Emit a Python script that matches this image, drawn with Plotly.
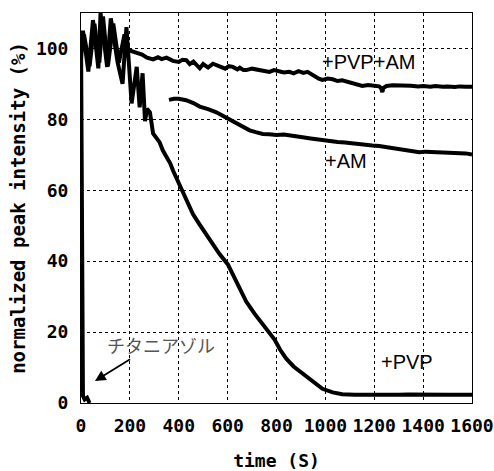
import plotly.graph_objects as go

# +PVP+AM
t_pvp_am = [0, 12, 35, 55, 75, 90, 110, 132, 155, 178, 195, 212, 235, 250, 270, 295, 315, 330, 350, 376, 400, 415, 431,
            445, 460, 475, 486, 500, 520, 540, 554, 575, 590, 605, 621, 640, 650, 665, 676, 700, 720, 745, 771, 790,
            810, 830, 853, 870, 890, 910, 927, 945, 960, 975, 988, 1010, 1030, 1050, 1069, 1090, 1110, 1130, 1151,
            1175, 1200, 1220, 1228, 1233, 1238, 1250, 1275, 1302, 1330, 1350, 1380, 1400, 1430, 1450, 1480, 1500,
            1530, 1550, 1575, 1600]
v_pvp_am = [100, 104, 95, 107, 96, 109, 95, 107, 96, 104, 99.5, 99.1, 98.6, 98.3, 97.4, 96.9, 97.5, 97.0, 97.4, 96.5,
            96.2, 96.8, 96.7, 95.6, 96.3, 95.2, 94.4, 95.6, 94.6, 95.7, 95.3, 94.6, 94.3, 95.0, 94.8, 94.1, 94.6, 93.9,
            93.9, 94.3, 94.0, 93.6, 93.4, 93.9, 93.6, 93.2, 93.4, 93.0, 93.6, 93.1, 93.4, 92.6, 91.8, 91.4, 91.1, 91.5,
            91.3, 90.8, 91.0, 90.6, 90.2, 89.9, 89.4, 89.7, 89.5, 89.3, 88.8, 87.7, 88.9, 89.4, 89.6, 89.6, 89.4,
            89.5, 89.3, 89.4, 89.2, 89.4, 89.2, 89.3, 89.1, 89.3, 89.2, 89.2]

# +AM
t_am = [360, 380, 400, 430, 460, 486, 520, 554, 580, 601, 625, 650, 670, 690, 715, 744, 770, 800, 830, 853, 880, 900,
        940, 988, 1020, 1050, 1080, 1100, 1150, 1192, 1220, 1250, 1280, 1300, 1340, 1384, 1410, 1450, 1480, 1500,
        1530, 1550, 1575, 1600]
v_am = [85.5, 85.8, 85.8, 85.4, 84.6, 83.6, 82.9, 82.0, 81.0, 80.2, 79.4, 78.5, 77.7, 76.9, 76.4, 75.9, 75.8, 75.6,
        75.7, 75.4, 75.3, 75.0, 74.6, 74.1, 73.9, 73.6, 73.5, 73.3, 72.9, 72.6, 72.5, 72.2, 72.0, 71.7, 71.3, 70.7,
        70.9, 70.8, 70.7, 70.6, 70.6, 70.5, 70.4, 70.1]

# +PVP
t_pvp = [0, 8, 30, 49, 71, 80, 107, 122, 150, 170, 186, 207, 228, 240, 252, 262, 270, 282, 295, 310, 322, 335, 350,
         365, 377, 390, 404, 431, 458, 485, 513, 540, 567, 601, 640, 676, 710, 750, 792, 815, 840, 870, 906, 950,
         988, 1030, 1069, 1120, 1200, 1300, 1340, 1400, 1500, 1600]
v_pvp = [97, 105, 93.5, 108, 94.4, 110, 94.8, 108.5, 96, 90, 106, 84.5, 94.8, 83.4, 93, 79.5, 83, 82, 76, 74.6, 73.5,
         71.2, 69.4, 67.6, 65.5, 63.6, 61.6, 57.0, 53.3, 50.4, 47.6, 44.8, 42.0, 39.1, 33.8, 28.6, 25.2, 21.6, 17.9,
         15.0, 12.5, 10.3, 8.3, 5.9, 4.0, 3.0, 2.5, 2.3, 2.2, 2.3, 2.4, 2.3, 2.3, 2.3]

# チタニアゾル
t_sol = [0, 8, 15, 25, 35]
v_sol = [104, 2, 1, 1.5, 0]

fig = go.Figure()
line = dict(color="black", width=4)
for tx, vy in [(t_pvp_am, v_pvp_am), (t_am, v_am), (t_pvp, v_pvp), (t_sol, v_sol)]:
    fig.add_trace(go.Scatter(x=tx, y=vy, mode="lines", line=line, showlegend=False, hoverinfo="skip",
                             cliponaxis=True))

lab_font = dict(family="Liberation Sans, Arial", size=20, color="black")
fig.add_annotation(x=1175, y=96.2, text="+PVP+AM", showarrow=False, font=lab_font)
fig.add_annotation(x=1084, y=68.2, text="+AM", showarrow=False, font=lab_font)
fig.add_annotation(x=1332, y=11.6, text="+PVP", showarrow=False, font=lab_font)
fig.add_annotation(x=329, y=16.4, text="チタニアゾル", showarrow=False,
                   font=dict(family="Noto Sans CJK JP", size=18, color="#555555"))
fig.add_annotation(x=57, y=6.2, ax=207, ay=12.6, axref="x", ayref="y", text="", showarrow=True,
                   arrowhead=2, arrowsize=1.2, arrowwidth=1.8, arrowcolor="black")

tick_font = dict(family="DejaVu Sans Mono", size=18, color="black", weight="bold")
axis_common = dict(showline=True, linecolor="black", linewidth=1, mirror=True,
                   showgrid=True, gridcolor="black", gridwidth=1, griddash="dot",
                   zeroline=False, ticks="", tickfont=tick_font, automargin=False)

fig.update_xaxes(range=[0, 1600], dtick=200, tick0=0, ticklabelstandoff=6,
                 title=dict(text="time (S)", standoff=19,
                            font=dict(family="DejaVu Sans Mono", size=18, color="black", weight="bold")),
                 **axis_common)
fig.update_yaxes(range=[0, 110], dtick=20, tick0=0, ticklabelstandoff=8,
                 title=dict(text="normalized peak intensity (%)", standoff=5,
                            font=dict(family="DejaVu Sans Mono", size=19, color="black", weight="bold")),
                 **axis_common)

fig.update_layout(width=494, height=471, margin=dict(l=81, r=22, t=13, b=68),
                  plot_bgcolor="white", paper_bgcolor="white")

fig.write_html("out.html", config={"displayModeBar": False},
               post_script="document.body.style.margin='0';document.body.style.overflow='hidden';")
